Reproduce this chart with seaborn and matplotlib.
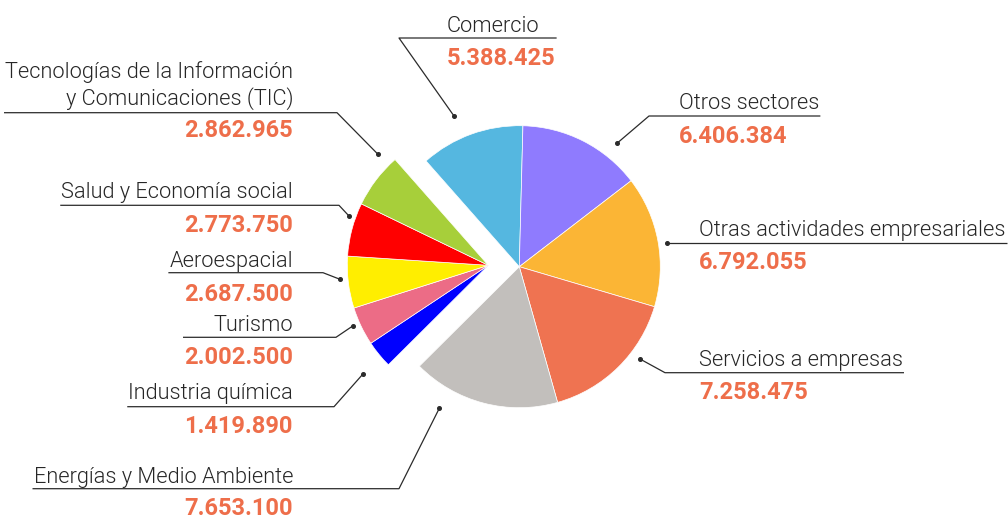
import matplotlib
matplotlib.use("Agg")
import matplotlib.pyplot as plt
import seaborn as sns

# ---------------- data ----------------
sectors = [
    "Comercio",
    "Otros sectores",
    "Otras actividades empresariales",
    "Servicios a empresas",
    "Energías y Medio Ambiente",
    "Industria química",
    "Turismo",
    "Aeroespacial",
    "Salud y Economía social",
    "Tecnologías de la Información\ny Comunicaciones (TIC)",
]
values = [5388425, 6406384, 6792055, 7258475, 7653100,
          1419890, 2002500, 2687500, 2773750, 2862965]
colors = ["#55B7E0", "#8F7BFE", "#FBB535", "#EF7351", "#C2BFBC",
          "#0000FF", "#EC6C86", "#FFEE00", "#FF0000", "#A7CF3A"]
exploded = [False, False, False, False, False, True, True, True, True, True]

# ---------------- layout (pixels, origin top-left) ----------------
# ha, text x, first name baseline, value baseline, underline y, joint x, dot (x, y)
layout = [
    ("left", 447, 32.0, 65.0, 38.0, 399, (454, 116)),
    ("left", 679, 109.3, 143.3, 116.0, 649, (617, 143.3)),
    ("left", 699, 236.0, 269.3, 243.3, 667, (667, 243.3)),
    ("left", 699, 365.7, 399.0, 372.7, 665, (640, 359)),
    ("right", 293, 482.7, 515.0, 488.7, 399, (439.3, 408.3)),
    ("right", 293, 399.0, 433.3, 406.7, 334, (362.7, 374.3)),
    ("right", 293, 331.0, 364.0, 337.3, 336, (352.7, 326)),
    ("right", 293, 266.7, 300.7, 272.7, 323, (340, 279.3)),
    ("right", 293, 197.7, 231.5, 205.3, 339, (349, 216)),
    ("right", 293, 77.7, 137.3, 112.7, 337, (377.7, 154)),
]
LINE_GAP = 27.3

W, H = 1008, 520
main_center = (519.3, H - 266.7)
expl_center = (488.3, H - 265.3)
RADIUS = 141
START = 131.4

sns.set_theme(style="white")
plt.rcParams["font.family"] = ["Roboto", "DejaVu Sans"]

fig = plt.figure(figsize=(W / 100, H / 100), dpi=100)
ax = fig.add_axes([0, 0, 1, 1])

for center, want in [(main_center, False), (expl_center, True)]:
    wedges, _ = ax.pie(values, colors=colors, startangle=START, counterclock=False,
                       center=center, radius=RADIUS, frame=False,
                       wedgeprops=dict(linewidth=0.5, edgecolor="white"))
    for w, e in zip(wedges, exploded):
        w.set_visible(e == want)

ax.set_xlim(0, W)
ax.set_ylim(0, H)
ax.set_aspect("equal")
ax.axis("off")

NAME_COLOR = "#262626"
VALUE_COLOR = "#EE6E4A"
LINE_COLOR = "#2b2b2b"

texts = []
for name, val, (ha, tx, ny, vy, uy, jx, dot) in zip(sectors, values, layout):
    items = []
    for i, line in enumerate(name.split("\n")):
        t = ax.text(tx, H - (ny + i * LINE_GAP), line, ha=ha, va="baseline",
                    fontsize=15.7, fontweight=300, color=NAME_COLOR)
        items.append(t)
    vlabel = f"{val:,}".replace(",", ".")
    t = ax.text(tx, H - vy, vlabel, ha=ha, va="baseline", fontsize=17,
                fontweight="bold", color=VALUE_COLOR)
    items.append(t)
    texts.append((items, ha, uy, jx, dot))

fig.canvas.draw()
renderer = fig.canvas.get_renderer()
for items, ha, uy, jx, dot in texts:
    exts = [t.get_window_extent(renderer) for t in items]
    if ha == "left":
        x_end = max(e.x1 for e in exts) + 1
    else:
        x_end = min(e.x0 for e in exts) - 1
    xs = [dot[0], jx, x_end]
    ys = [H - dot[1], H - uy, H - uy]
    ax.plot(xs, ys, color=LINE_COLOR, lw=0.9, solid_capstyle="butt")
    ax.plot([dot[0]], [H - dot[1]], "o", color=LINE_COLOR, markersize=2.6)

fig.savefig("out.png", dpi=100)
